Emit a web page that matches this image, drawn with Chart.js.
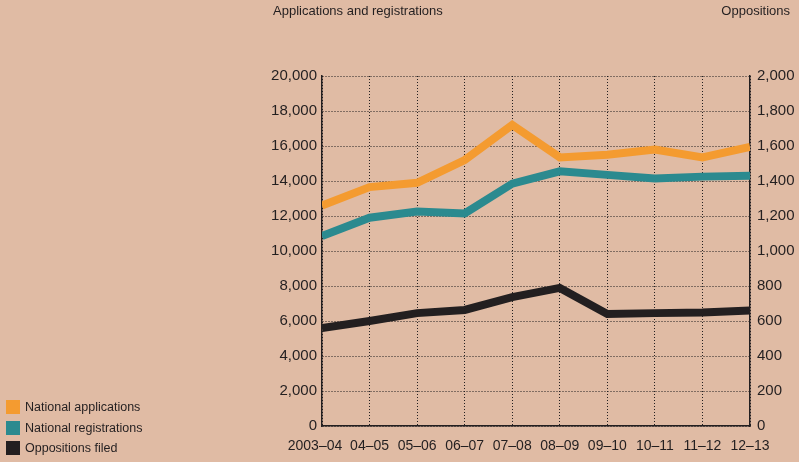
<!DOCTYPE html>
<html>
<head>
<meta charset="utf-8">
<script src="https://cdn.jsdelivr.net/npm/chart.js@4"></script>
<style>
  html, body { margin: 0; padding: 0; background: #e0bba4; }
  body { width: 799px; height: 462px; position: relative; overflow: hidden; font-family: "Liberation Sans", Arial, sans-serif; color: #231f20; }
  #wrap { position: absolute; left: 0; top: 0; width: 799px; height: 462px; }
  .axisTitle { position: absolute; top: 3px; font-size: 13px; white-space: nowrap; }
  #legend { position: absolute; left: 6px; top: 397px; font-size: 12.5px; }
  #legend div { height: 20.5px; display: flex; align-items: center; }
  #legend span.box { display: inline-block; width: 14px; height: 14px; margin-right: 5px; }
</style>
</head>
<body>
<div id="wrap"><canvas id="myChart" width="799" height="462"></canvas></div>
<div class="axisTitle" style="left:273px">Applications and registrations</div>
<div class="axisTitle" style="right:9px">Oppositions</div>
<div id="legend"></div>
<script>
let years = ['2003–04', '04–05', '05–06', '06–07', '07–08', '08–09', '09–10', '10–11', '11–12', '12–13']
let nationalApplications = [12600, 13650, 13900, 15200, 17200, 15350, 15500, 15800, 15350, 15950]
let nationalRegistrations = [10850, 11900, 12250, 12150, 13850, 14550, 14350, 14150, 14250, 14300]
let oppositionsFiled = [560, 600, 645, 663, 737, 789, 640, 645, 648, 660]

let seriesNames = ['National applications', 'National registrations', 'Oppositions filed']
let seriesColors = ['#f49b30', '#2b8a8f', '#231f20']

let ink = '#231f20'
let tickFont = { family: '"Liberation Sans", Arial, sans-serif', size: 15 }
let xFont = { family: '"Liberation Sans", Arial, sans-serif', size: 14 }

// legend in the lower left corner
let legendDiv = document.querySelector('#legend')
seriesNames.forEach((name, i) => {
    legendDiv.innerHTML += `<div><span class="box" style="background:${seriesColors[i]}"></span>${name}</div>`
})

function lineSet(label, data, color, axis) {
    return {
        label: label,
        data: data,
        borderColor: color,
        backgroundColor: color,
        borderWidth: 8,
        pointRadius: 0,
        tension: 0,
        yAxisID: axis,
        clip: 0
    }
}

let ctx = document.querySelector('#myChart').getContext('2d')
let myChart = new Chart(ctx, {
    type: 'line',
    data: {
        labels: years,
        datasets: [
            lineSet(seriesNames[0], nationalApplications, seriesColors[0], 'y'),
            lineSet(seriesNames[1], nationalRegistrations, seriesColors[1], 'y'),
            lineSet(seriesNames[2], oppositionsFiled, seriesColors[2], 'y2')
        ]
    },
    options: {
        responsive: false,
        animation: false,
        layout: { padding: { top: 76, left: 0, right: 0, bottom: 0 } },
        plugins: { legend: { display: false }, tooltip: { enabled: false } },
        scales: {
            x: {
                offset: false,
                grid: { color: ink, lineWidth: 1, drawTicks: false },
                border: { color: ink, width: 1.5, dash: [1, 2] },
                ticks: {
                    color: ink,
                    font: xFont,
                    padding: 12,
                    maxRotation: 0,
                    autoSkip: false,
                    // first label sits a little left of its gridline, like the original
                    callback: (v, i) => i === 0 ? years[i] + '\u2002\u2002' : years[i]
                },
                afterFit: s => { s.height = 36 }
            },
            y: {
                position: 'left',
                min: 0,
                max: 20000,
                grid: { color: ink, lineWidth: 1, drawTicks: false },
                border: { color: ink, width: 1.5, dash: [1, 2] },
                ticks: {
                    stepSize: 2000,
                    color: ink,
                    font: tickFont,
                    padding: 5,
                    callback: v => v.toLocaleString('en-US')
                },
                afterFit: s => { s.width = 322 }
            },
            y2: {
                position: 'right',
                min: 0,
                max: 2000,
                grid: { display: false, drawTicks: false },
                border: { color: ink, width: 1.5 },
                ticks: {
                    stepSize: 200,
                    color: ink,
                    font: tickFont,
                    padding: 7,
                    callback: v => v.toLocaleString('en-US')
                },
                afterFit: s => { s.width = 49 }
            }
        }
    }
})
</script>
</body>
</html>
